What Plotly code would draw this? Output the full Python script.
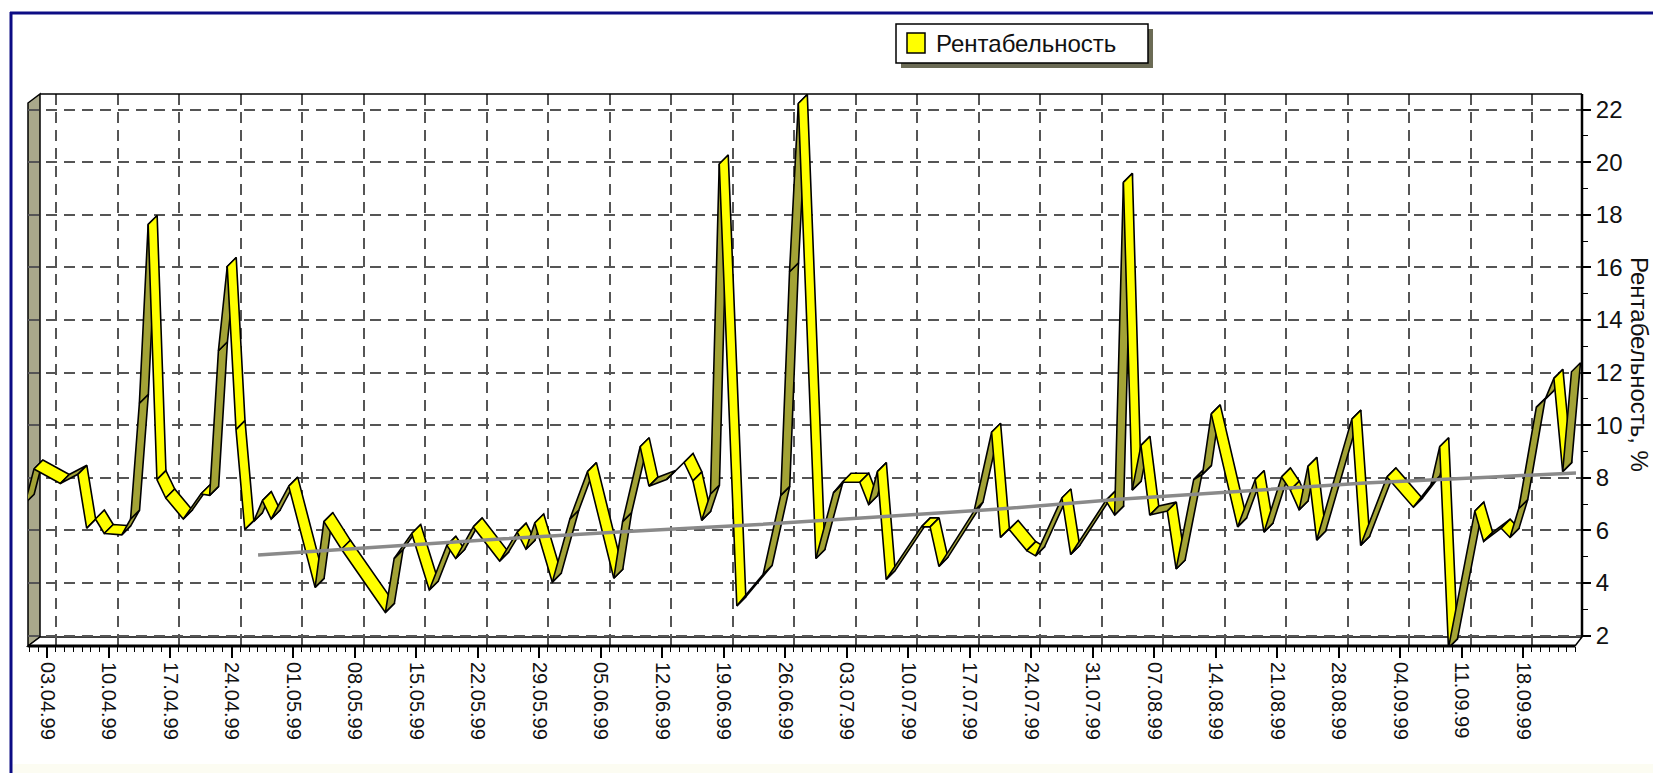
import plotly.graph_objects as go
import pandas as pd

# ---------------- data ----------------
dates = [
    "1999-03-31", "1999-04-01", "1999-04-04", "1999-04-06", "1999-04-07", "1999-04-08",
    "1999-04-09", "1999-04-11", "1999-04-12", "1999-04-13", "1999-04-14", "1999-04-15",
    "1999-04-16", "1999-04-18", "1999-04-20", "1999-04-21", "1999-04-22", "1999-04-23",
    "1999-04-24", "1999-04-25", "1999-04-26", "1999-04-27", "1999-04-28", "1999-04-30",
    "1999-05-03", "1999-05-04", "1999-05-06", "1999-05-11", "1999-05-12", "1999-05-14",
    "1999-05-16", "1999-05-18", "1999-05-19", "1999-05-21", "1999-05-24", "1999-05-26",
    "1999-05-27", "1999-05-28", "1999-05-30", "1999-06-01", "1999-06-03", "1999-06-06",
    "1999-06-07", "1999-06-09", "1999-06-10", "1999-06-12", "1999-06-14", "1999-06-15",
    "1999-06-16", "1999-06-17", "1999-06-18", "1999-06-20", "1999-06-23", "1999-06-25",
    "1999-06-26", "1999-06-27", "1999-06-29", "1999-07-01", "1999-07-02", "1999-07-04",
    "1999-07-05", "1999-07-06", "1999-07-07", "1999-07-11", "1999-07-12", "1999-07-13",
    "1999-07-17", "1999-07-19", "1999-07-20", "1999-07-21", "1999-07-23", "1999-07-24",
    "1999-07-27", "1999-07-28", "1999-08-01", "1999-08-02", "1999-08-03", "1999-08-04",
    "1999-08-05", "1999-08-06", "1999-08-08", "1999-08-09", "1999-08-11", "1999-08-12",
    "1999-08-13", "1999-08-16", "1999-08-18", "1999-08-19", "1999-08-21", "1999-08-22",
    "1999-08-23", "1999-08-24", "1999-08-25", "1999-08-29", "1999-08-30", "1999-09-02",
    "1999-09-05", "1999-09-07", "1999-09-08", "1999-09-09", "1999-09-12", "1999-09-13",
    "1999-09-15", "1999-09-16", "1999-09-17", "1999-09-19", "1999-09-20", "1999-09-21",
    "1999-09-22", "1999-09-23",
]
values = [
    7.2, 8.5, 7.95, 8.3, 6.25, 6.6,
    6.05, 6.0, 6.6, 11.0, 17.8, 8.1,
    7.4, 6.6, 7.55, 7.5, 13.0, 16.2,
    10.0, 6.2, 6.5, 7.3, 6.6, 7.85,
    4.0, 6.5, 5.45, 3.05, 5.1, 6.05,
    3.9, 5.6, 5.1, 6.3, 5.0, 6.1,
    5.45, 6.45, 4.2, 6.6, 8.4, 4.35,
    6.5, 9.35, 7.85, 8.1, 8.75, 8.05,
    6.55, 7.55, 20.1, 3.3, 4.5, 7.5,
    16.0, 22.4, 5.1, 7.6, 8.0, 8.0,
    7.15, 8.4, 4.3, 6.3, 6.3, 4.8,
    6.9, 9.9, 5.9, 6.2, 5.4, 5.2,
    7.4, 5.25, 7.3, 6.75, 19.4, 7.7,
    9.4, 6.75, 6.9, 4.7, 8.1, 8.3,
    10.6, 6.3, 8.1, 6.1, 8.2, 7.7,
    6.95, 8.6, 5.8, 10.4, 5.6, 8.2,
    7.05, 7.9, 9.35, 1.7, 6.9, 5.75,
    6.25, 5.9, 7.0, 10.85, 11.15, 11.95,
    8.4, 12.2,
]
trend_dates = ["1999-04-26", "1999-05-10", "1999-05-24", "1999-06-07", "1999-06-21",
               "1999-07-05", "1999-07-19", "1999-08-02", "1999-08-16", "1999-08-30",
               "1999-09-13", "1999-09-23"]
trend_values = [5.06, 5.38, 5.68, 5.95, 6.2, 6.5, 6.8, 7.18, 7.5, 7.8, 8.02, 8.18]

tick_dates = ["1999-04-03", "1999-04-10", "1999-04-17", "1999-04-24", "1999-05-01",
              "1999-05-08", "1999-05-15", "1999-05-22", "1999-05-29", "1999-06-05",
              "1999-06-12", "1999-06-19", "1999-06-26", "1999-07-03", "1999-07-10",
              "1999-07-17", "1999-07-24", "1999-07-31", "1999-08-07", "1999-08-14",
              "1999-08-21", "1999-08-28", "1999-09-04", "1999-09-11", "1999-09-18"]
tick_labels = ["03.04.99", "10.04.99", "17.04.99", "24.04.99", "01.05.99",
               "08.05.99", "15.05.99", "22.05.99", "29.05.99", "05.06.99",
               "12.06.99", "19.06.99", "26.06.99", "03.07.99", "10.07.99",
               "17.07.99", "24.07.99", "31.07.99", "07.08.99", "14.08.99",
               "21.08.99", "28.08.99", "04.09.99", "11.09.99", "18.09.99"]
y_ticks = [2, 4, 6, 8, 10, 12, 14, 16, 18, 20, 22]

series_name = "Рентабельность"
y_title = "Рентабельность, %"

# ---------------- geometry (pixels) ----------------
W, H = 1653, 773
L, R, T, B = 28, 1582, 94, 646          # plot area
X0 = pd.Timestamp("1999-04-03")
PX0, PXD = 56.0, 8.786                   # px of first weekly gridline, px per day
PY22, PXU = 109.5, 26.3                  # px of value 22, px per unit
DEPTH = 9.0                              # 3D depth offset (px)
LABEL_SHIFT = 9.0                        # front-plane shift of x labels (px)

x_range = [X0 + pd.Timedelta(days=(L - PX0) / PXD), X0 + pd.Timedelta(days=(R - PX0) / PXD)]
y_range = [22 - (B - PY22) / PXU, 22 + (PY22 - T) / PXU]
sh = pd.Timedelta(days=LABEL_SHIFT / PXD)
x2_range = [x_range[0] + sh, x_range[1] + sh]

def xp(px):
    return (px - L) / (R - L)

def yp(py):
    return (B - py) / (B - T)

YELLOW = "#ffff00"
OLIVE = "#a3a336"
GRID = "#555555"
FONT = "Liberation Sans, Arial, sans-serif"

fig = go.Figure()

# ---------------- 3D ribbon ----------------
ts = pd.to_datetime(dates)
hx = pd.Timedelta(days=0.5 * DEPTH / PXD)
hy = 0.5 * DEPTH / PXU
for i in range(len(ts) - 1):
    v0, v1 = values[i], values[i + 1]
    xs = [ts[i] - hx, ts[i + 1] - hx, ts[i + 1] + hx, ts[i] + hx, ts[i] - hx]
    ys = [v0 - hy, v1 - hy, v1 + hy, v0 + hy, v0 - hy]
    fig.add_trace(go.Scatter(
        x=xs, y=ys, mode="lines", fill="toself",
        fillcolor=OLIVE if v1 > v0 else YELLOW,
        line=dict(color="black", width=1.6),
        showlegend=False, hoverinfo="skip"))

# trend line
fig.add_trace(go.Scatter(x=pd.to_datetime(trend_dates), y=trend_values, mode="lines",
                         line=dict(color="#8a8a8a", width=3.5),
                         showlegend=False, hoverinfo="skip"))

# carrier trace for the label axis
fig.add_trace(go.Scatter(x=pd.to_datetime(tick_dates), y=[None] * len(tick_dates),
                         xaxis="x2", yaxis="y", mode="markers",
                         showlegend=False, hoverinfo="skip"))

# ---------------- shapes ----------------
def path(points):
    return "M " + " L ".join(f"{xp(a):.5f},{yp(b):.5f}" for a, b in points) + " Z"

shapes = []
# left wall
shapes.append(dict(type="path", xref="paper", yref="paper", layer="between",
                   path=path([(L, T + 9), (40, T), (40, B - 9), (L, B)]),
                   fillcolor="#a9a88b", line=dict(color="black", width=1.5)))
# floor
shapes.append(dict(type="path", xref="paper", yref="paper", layer="between",
                   path=path([(L, B), (40, B - 9), (R, B - 9), (R - 7, B)]),
                   fillcolor="white", line=dict(color="black", width=1.5)))
# front floor edge
shapes.append(dict(type="line", xref="paper", yref="paper", layer="above",
                   x0=xp(L), x1=xp(R - 7), y0=yp(B), y1=yp(B),
                   line=dict(color="black", width=3)))
# top edge of back wall
shapes.append(dict(type="line", xref="paper", yref="paper", layer="above",
                   x0=xp(40), x1=xp(R), y0=yp(T), y1=yp(T),
                   line=dict(color="black", width=1.5)))
# right edge of back wall (axis line)
shapes.append(dict(type="line", xref="paper", yref="paper", layer="above",
                   x0=xp(R), x1=xp(R), y0=yp(T), y1=yp(B - 9),
                   line=dict(color="black", width=2.5)))
# outer navy frame (left & top)
shapes.append(dict(type="line", xref="paper", yref="paper", layer="above",
                   x0=xp(11), x1=xp(11), y0=yp(12), y1=yp(H + 5),
                   line=dict(color="#0c0c84", width=3)))
shapes.append(dict(type="line", xref="paper", yref="paper", layer="above",
                   x0=xp(10), x1=xp(W + 5), y0=yp(13), y1=yp(13),
                   line=dict(color="#0c0c84", width=3)))
# pale band at the very bottom
shapes.append(dict(type="rect", xref="paper", yref="paper", layer="below",
                   x0=xp(12.5), x1=xp(W + 5), y0=yp(764), y1=yp(H + 5),
                   fillcolor="#fcfcf2", line=dict(width=0)))
# legend: shadow, box, swatch
shapes.append(dict(type="rect", xref="paper", yref="paper", layer="above",
                   x0=xp(901), x1=xp(1153), y0=yp(29), y1=yp(68),
                   fillcolor="#6b6b55", line=dict(width=0)))
shapes.append(dict(type="rect", xref="paper", yref="paper", layer="above",
                   x0=xp(896), x1=xp(1148), y0=yp(24), y1=yp(63),
                   fillcolor="white", line=dict(color="black", width=1.5)))
shapes.append(dict(type="rect", xref="paper", yref="paper", layer="above",
                   x0=xp(907), x1=xp(925), y0=yp(33), y1=yp(53),
                   fillcolor=YELLOW, line=dict(color="black", width=1.5)))

annotations = [
    dict(text=series_name, xref="paper", yref="paper", x=xp(934), y=yp(43.5),
         xanchor="left", yanchor="middle", showarrow=False,
         font=dict(family=FONT, size=24, color="#111111")),
    dict(text=y_title, xref="paper", yref="paper", x=xp(1640), y=yp(364),
         xanchor="center", yanchor="middle", showarrow=False, textangle=90,
         font=dict(family=FONT, size=24, color="#111111")),
]

fig.update_layout(
    width=W, height=H,
    margin=dict(l=L, r=W - R, t=T, b=H - B, pad=0),
    paper_bgcolor="white", plot_bgcolor="white",
    showlegend=False,
    shapes=shapes, annotations=annotations,
    font=dict(family=FONT, color="#111111"),
    xaxis=dict(type="date", range=x_range, tickmode="array", tickvals=tick_dates,
               showticklabels=False, ticks="", showline=False, zeroline=False,
               showgrid=True, gridcolor=GRID, gridwidth=1.8, griddash="11px,7px",
               fixedrange=True),
    xaxis2=dict(type="date", overlaying="x", anchor="y", side="bottom",
                range=x2_range, tickmode="array", tickvals=tick_dates, ticktext=tick_labels,
                tickangle=90, ticks="outside", ticklen=11, tickwidth=1.5, tickcolor="black",
                tickfont=dict(family=FONT, size=20, color="#111111"),
                minor=dict(ticks="outside", ticklen=5, tickwidth=1.2, tickcolor="black",
                           dtick=86400000, tick0="1999-04-03", showgrid=False),
                showgrid=False, showline=False, zeroline=False, fixedrange=True),
    yaxis=dict(side="right", range=y_range, tickmode="array", tickvals=y_ticks,
               ticks="outside", ticklen=8, tickwidth=1.5, tickcolor="black",
               tickfont=dict(family=FONT, size=24, color="#111111"),
               minor=dict(ticks="outside", ticklen=5, tickwidth=1.2, tickcolor="black",
                          dtick=1, tick0=0, showgrid=False),
               showgrid=True, gridcolor=GRID, gridwidth=1.8, griddash="11px,7px",
               showline=False, zeroline=False, fixedrange=True),
)

fig.write_html("out.html")
